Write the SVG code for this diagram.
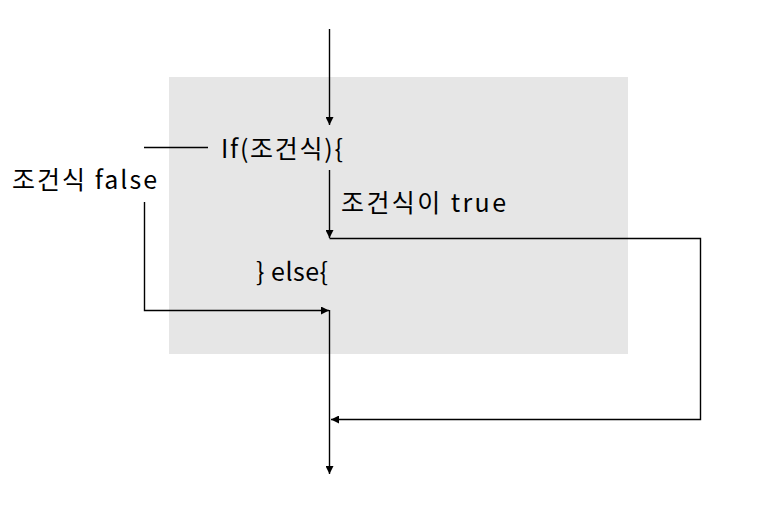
<svg xmlns="http://www.w3.org/2000/svg" width="775" height="528" viewBox="0 0 775 528">
<defs>
<marker id="arr" viewBox="0 0 10 10" refX="10" refY="5" markerWidth="8" markerHeight="8" markerUnits="userSpaceOnUse" orient="auto">
<path d="M0,0 L10,5 L0,10 z" fill="#000"/>
</marker>
<style>
.t{font-family:"Malgun Gothic","Noto Sans CJK KR","Noto Sans",sans-serif;font-size:25px;fill:#000}
.c{fill:none;stroke:#000;stroke-width:1.4}
</style>
</defs>
<rect width="775" height="528" fill="#fff"/>
<g id="block">
<rect x="169" y="77" width="459" height="277" fill="#e6e6e6"/>
</g>
<g id="connectors">
<path class="c" d="M329.5,29 V125" marker-end="url(#arr)"/>
<path class="c" d="M144,147.5 H208"/>
<path class="c" d="M329.5,170 V238" marker-end="url(#arr)"/>
<path class="c" d="M329.5,238.5 H700.5 V419.5 H331" marker-end="url(#arr)"/>
<path class="c" d="M144.5,202 V310.5 H329" marker-end="url(#arr)"/>
<path class="c" d="M329.5,310 V474" marker-end="url(#arr)"/>
</g>
<g id="if"><text class="t" x="221" y="158" textLength="122" lengthAdjust="spacing">If(조건식){</text></g>
<g id="true-label"><text class="t" x="341" y="212" textLength="165" lengthAdjust="spacing">조건식이 true</text></g>
<g id="else"><text class="t" x="256" y="281" textLength="72" lengthAdjust="spacing">} else{</text></g>
<g id="false-label"><text class="t" x="12" y="189" textLength="145" lengthAdjust="spacing">조건식 false</text></g>
</svg>
